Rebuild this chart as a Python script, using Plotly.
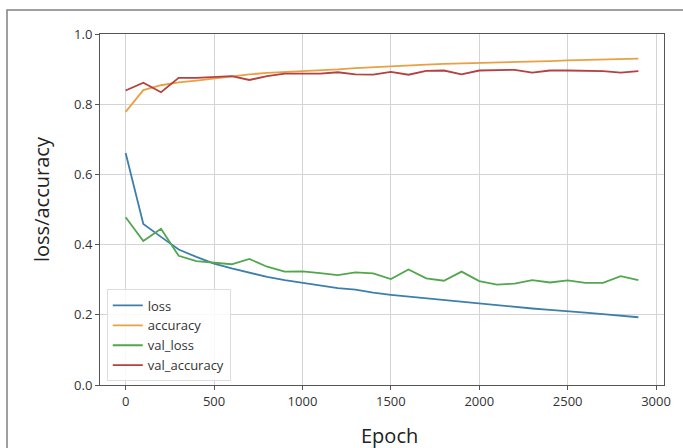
import plotly.graph_objects as go

epochs = list(range(0, 3000, 100))

loss = [0.661, 0.459, 0.422, 0.386, 0.365, 0.346, 0.332, 0.320, 0.308, 0.299,
        0.291, 0.284, 0.276, 0.272, 0.263, 0.257, 0.252, 0.246, 0.242, 0.237,
        0.232, 0.227, 0.223, 0.218, 0.214, 0.209, 0.206, 0.202, 0.198, 0.193]

accuracy = [0.778, 0.840, 0.854, 0.862, 0.867, 0.873, 0.880, 0.885, 0.889, 0.891,
            0.894, 0.897, 0.899, 0.903, 0.906, 0.909, 0.911, 0.913, 0.915, 0.916,
            0.918, 0.919, 0.921, 0.922, 0.923, 0.925, 0.926, 0.927, 0.929, 0.930]

val_loss = [0.478, 0.410, 0.445, 0.368, 0.353, 0.348, 0.344, 0.359, 0.337, 0.323,
            0.324, 0.319, 0.313, 0.321, 0.318, 0.302, 0.329, 0.304, 0.297, 0.323,
            0.296, 0.286, 0.289, 0.299, 0.292, 0.298, 0.291, 0.291, 0.310, 0.299]

val_accuracy = [0.839, 0.861, 0.834, 0.875, 0.875, 0.878, 0.880, 0.869, 0.880, 0.887,
                0.887, 0.887, 0.891, 0.885, 0.884, 0.892, 0.884, 0.895, 0.896, 0.885,
                0.896, 0.897, 0.898, 0.890, 0.896, 0.896, 0.896, 0.894, 0.890, 0.894]

series = [
    ("loss", loss, "#3d7fab"),
    ("accuracy", accuracy, "#e9a043"),
    ("val_loss", val_loss, "#52a64e"),
    ("val_accuracy", val_accuracy, "#b5403f"),
]

x_ticks = [0, 500, 1000, 1500, 2000, 2500, 3000]
y_ticks = [0.0, 0.2, 0.4, 0.6, 0.8, 1.0]

fig = go.Figure()
for name, vals, color in series:
    fig.add_trace(go.Scatter(x=epochs, y=vals, mode="lines", name=name,
                             line=dict(color=color, width=1.8)))

font_family = "Open Sans, DejaVu Sans, sans-serif"
axis_common = dict(
    showgrid=True, gridcolor="#d4d4d4", gridwidth=1,
    showline=True, linecolor="#555555", linewidth=1, mirror=True,
    ticks="outside", ticklen=4, tickcolor="#555555",
    zeroline=False,
    tickfont=dict(family=font_family, size=13, color="#333333"),
)

fig.update_layout(
    width=683, height=448,
    margin=dict(l=100, r=19, t=34, b=63),
    paper_bgcolor="white", plot_bgcolor="white",
    xaxis=dict(range=[-145, 3045], tickvals=x_ticks,
               ticktext=[str(t) for t in x_ticks], **axis_common),
    yaxis=dict(range=[0, 1], tickvals=y_ticks,
               ticktext=[f"{t:.1f}" for t in y_ticks], **axis_common),
    legend=dict(x=0.012, y=0.01, xanchor="left", yanchor="bottom",
                bgcolor="rgba(255,255,255,0.85)", bordercolor="#dddddd", borderwidth=1,
                font=dict(family=font_family, size=13, color="#333333"),
                tracegroupgap=0, itemwidth=30),
    showlegend=True,
    annotations=[
        dict(text="loss/accuracy", xref="paper", yref="paper",
             x=(41 - 100) / 564, y=(385 - 199) / 351, textangle=-90, showarrow=False,
             xanchor="center", yanchor="middle",
             font=dict(family=font_family, size=20, color="#222222")),
        dict(text="Epoch", xref="paper", yref="paper",
             x=(389 - 100) / 564, y=(385 - 435) / 351, showarrow=False,
             xanchor="center", yanchor="middle",
             font=dict(family=font_family, size=20, color="#222222")),
    ],
    shapes=[
        dict(type="rect", xref="paper", yref="paper",
             x0=(7 - 100) / 564, x1=1.2, y0=-0.4, y1=(385 - 10) / 351,
             line=dict(color="#808080", width=1.5), layer="below"),
    ],
)

fig.write_html("out.html")
